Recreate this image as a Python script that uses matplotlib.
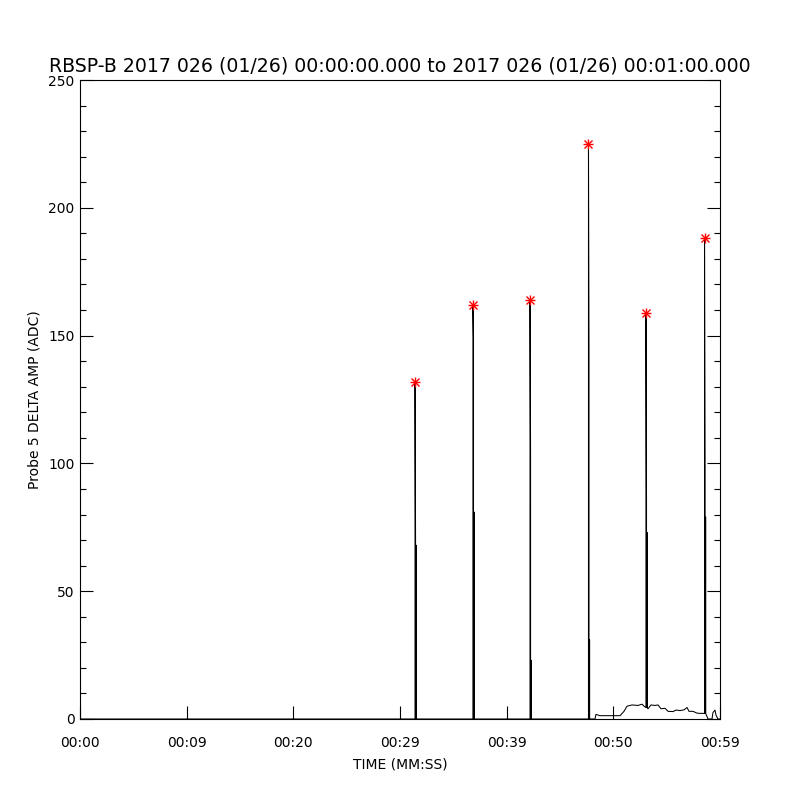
import numpy as np
import matplotlib
matplotlib.use("Agg")
import matplotlib.pyplot as plt
from matplotlib.ticker import MultipleLocator

# ---- data (seconds since 00:00:00, ADC) ----
spike_times = [31.41, 36.84, 42.19, 47.67, 53.06, 58.55]
spike_peaks = [132, 162, 164, 225, 159, 188]
spike_hi = [68, 149, 105, 143, 86, 98]
spike_lo = [68, 81, 23, 31, 73, 79]
spike_base = [0, 0, 0, 0, 4.5, 2.2]

base_times = [0.0, 48.28, 48.37, 48.75, 49.97, 50.63, 51.0, 51.28, 51.75, 52.31,
              52.69, 52.88, 53.25, 53.53, 53.91, 54.19, 54.47, 54.84, 55.13,
              55.59, 55.88, 56.25, 56.63, 56.91, 57.09, 57.47, 57.84, 58.13,
              58.88, 59.25, 59.34, 59.53, 59.63, 59.81, 60.0]
base_vals = [0, 0, 1.8, 1.3, 1.3, 1.3, 3.0, 5.0, 5.5, 5.3,
             5.8, 5.0, 4.0, 5.5, 5.3, 5.5, 4.0, 4.2, 3.0,
             2.9, 3.5, 3.3, 3.6, 4.5, 3.0, 3.0, 2.3, 2.2,
             0, 0, 2.5, 3.5, 1.5, 0, 0]

xtick_vals = [0, 10, 20, 30, 40, 50, 60]
xtick_labels = ["00:00", "00:09", "00:20", "00:29", "00:39", "00:50", "00:59"]

title = "RBSP-B 2017 026 (01/26) 00:00:00.000 to 2017 026 (01/26) 00:01:00.000"

# ---- build series ----
pts = list(zip(base_times, base_vals))
d = 0.05
for t0, P, hi, lo, b in zip(spike_times, spike_peaks, spike_hi, spike_lo, spike_base):
    seq_t = [t0 - 0.001, t0, t0 + d, t0 + d * 1.01, t0 + d * 1.02, t0 + 2 * d, t0 + 2 * d + 0.001]
    seq_v = [b, P, hi, lo, b, b, lo]
    seq_t.append(t0 + 2 * d + 0.002)
    seq_v.append(b)
    pts += list(zip(seq_t, seq_v))
pts.sort(key=lambda p: p[0])
tt = np.array([p[0] for p in pts])
vv = np.array([p[1] for p in pts])

fig = plt.figure(figsize=(8, 8), dpi=100)
ax = fig.add_axes([0.1, 0.10125, 0.8, 0.79875])
ax.plot(tt, vv, color="black", lw=0.75)
ax.plot(spike_times, spike_peaks, ls="none", marker="+", color="red", ms=7, mew=1.0)
ax.plot(spike_times, spike_peaks, ls="none", marker="x", color="red", ms=5.5, mew=1.0)

ax.set_xlim(0, 60)
ax.set_ylim(0, 250)
ax.set_xticks(xtick_vals)
ax.set_xticklabels(xtick_labels)
ax.yaxis.set_major_locator(MultipleLocator(50))
ax.yaxis.set_minor_locator(MultipleLocator(10))
ax.tick_params(axis="x", which="major", direction="in", length=9.4, width=0.8,
               pad=12, labelsize=10, top=False)
ax.tick_params(axis="y", which="major", direction="in", length=9.4, width=0.8,
               pad=4, labelsize=10, right=True)
ax.tick_params(axis="y", which="minor", direction="in", length=4.4, width=0.8, right=True)
for s in ax.spines.values():
    s.set_linewidth(0.8)

ax.set_xlabel("TIME (MM:SS)", fontsize=10, labelpad=6)
ax.set_ylabel("Probe 5 DELTA AMP (ADC)", fontsize=10, labelpad=5)
fig.text(0.5, 0.91, title, ha="center", va="baseline", fontsize=13.6)

fig.savefig("out.png", dpi=100)
